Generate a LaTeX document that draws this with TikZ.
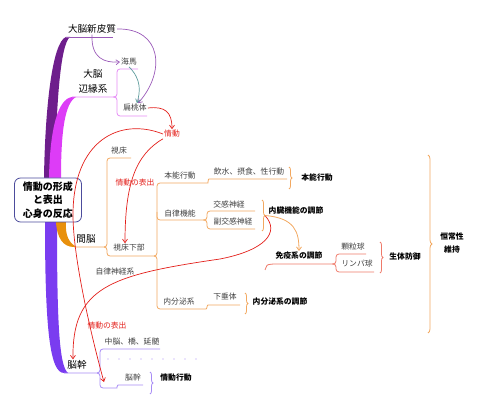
\documentclass[tikz,border=0pt]{standalone}
\usepackage{fontspec}
\setmainfont{Noto Sans CJK JP}
\usepackage{xcolor}
\usepackage{tikz}
\usetikzlibrary{arrows.meta, decorations.pathreplacing}
\definecolor{cortexpurple}{HTML}{6E1E8C}
\definecolor{cortexline}{HTML}{9A5AB8}
\definecolor{limbicpink}{HTML}{DD3CF7}
\definecolor{limbicline}{HTML}{E58AF5}
\definecolor{dienorange}{HTML}{E8900C}
\definecolor{dienline}{HTML}{F2A860}
\definecolor{stemviolet}{HTML}{7A3CF0}
\definecolor{stemline}{HTML}{A78BF5}
\definecolor{emored}{HTML}{E3201B}
\definecolor{hippoteal}{HTML}{5E9C9C}
\definecolor{immunecoral}{HTML}{EF7A6A}
\definecolor{corenavy}{HTML}{4C4C9C}

\begin{document}
\begin{tikzpicture}[x=1pt, y=-1pt, >={Straight Barb[length=3.5pt, width=5pt]},
    lbl/.style={font=\fontsize{7.8}{9}\selectfont, text=black!75, inner sep=1pt},
    key/.style={font=\fontsize{7.8}{9}\selectfont\bfseries, inner sep=1pt},
    big/.style={font=\fontsize{9.6}{15}\selectfont, inner sep=1pt, align=center},
    emo/.style={lbl, text=emored},
    brc/.style={decorate, decoration={brace, amplitude=3pt}},
    twig/.style={line width=0.8pt, rounded corners=3pt}]
    \useasboundingbox (0,0) rectangle (480,409);

    % Main trunks
    \fill[cortexpurple] (44,178) .. controls (45,110) and (52,42) .. (66,37) -- (70,37) .. controls (60,44) and (56,110) .. (55,178) -- cycle;
    \fill[limbicpink] (49,178) .. controls (50,128) and (58,99) .. (72,97) -- (76,97) .. controls (65,103) and (61,130) .. (61,178) -- cycle;
    \fill[stemviolet] (45,222) .. controls (45,330) and (50,373) .. (64,373) -- (68,373) .. controls (59,366) and (57,320) .. (57,222) -- cycle;
    \fill[dienorange] (56,222) .. controls (57,238) and (63,247) .. (74,247) -- (76,246.5) .. controls (69,243) and (65,235) .. (66,222) -- cycle;

    % Centre
    \node[draw=corenavy, line width=0.8pt, fill=white, rounded corners=6pt, minimum width=67pt, minimum height=44pt, align=center, font=\fontsize{10}{13.5}\selectfont\bfseries] (core) at (48,200) {情動の形成\\と表出\\心身の反応};

    % Labels
    \node[big] (shin) at (92,29) {大脳新皮質};
    \node[big] (hen) at (93,81) {大脳\\辺縁系};
    \node[big] (kan) at (86,239) {間脳};
    \node[big] (nokan) at (77,365) {脳幹};

    \node[lbl] (kaiba) at (129,62) {海馬};
    \node[lbl] (hento) at (135,108) {扁桃体};
    \node[emo] (jodo) at (172,134) {情動};
    \node[lbl] (shisho) at (119,151) {視床};
    \node[emo] (hyo1) at (135,183) {情動の表出};
    \node[lbl] (shikaku) at (129,248) {視床下部};
    \node[lbl] (honno) at (180,176) {本能行動};
    \node[lbl] (insui) at (249,172) {飲水、摂食、性行動};
    \node[key] (honnoR) at (317,178) {本能行動};
    \node[lbl] (jiritsu) at (180,214) {自律機能};
    \node[lbl] (kokan) at (229,205) {交感神経};
    \node[lbl] (fukukokan) at (233,222) {副交感神経};
    \node[key] (naizo) at (296,211) {内臓機能の調節};
    \node[key] (meneki) at (299,256) {免疫系の調節};
    \node[lbl] (karyu) at (353,247) {顆粒球};
    \node[lbl] (rinpa) at (357,264) {リンパ球};
    \node[key] (seitai) at (405,257) {生体防御};
    \node[key, align=center, font=\fontsize{7.8}{13}\selectfont\bfseries] (kojo) at (452,243) {恒常性\\維持};
    \node[lbl] (jiritsushin) at (115,272) {自律神経系};
    \node[lbl] (naibun) at (179,302) {内分泌系};
    \node[lbl] (kasui) at (225,297) {下垂体};
    \node[key] (naibunR) at (280,302) {内分泌系の調節};
    \node[emo] (hyo2) at (107,326) {情動の表出};
    \node[lbl] (chuno) at (132,342) {中脳、橋、延髄};
    \node[lbl] (nokansub) at (133,378) {脳幹};
    \node[key] (jododo) at (176,378) {情動行動};

    \coordinate (viscbr) at (265,215.5);
    \coordinate (stemtip) at (104,382);

    % Cortex and limbic branches
    \draw[twig, cortexline] (66,37) -- (113,37);
    \draw[twig, limbicline] (72,97) -- (117,97) -- (117,69) -- (138,69);
    \draw[twig, limbicline] (113,97) -- (117,97) -- (117,116) -- (147,116);

    % Diencephalon branches
    \draw[twig, dienline] (74,247) -- (107,247) -- (107,158) -- (131,158);
    \draw[twig, dienline] (104,247) -- (107,247) -- (107,256) -- (157,256) -- (157,183) -- (205,183) .. controls (208,183) and (208,179) .. (212,179) -- (287,179);
    \draw[twig, dienline] (154,256) -- (157,256) -- (157,309) -- (203,309) .. controls (207,309) and (207,305) .. (211,305) -- (240,305);
    \draw[twig, dienline] (157,212) -- (157,220) -- (207,220) -- (207,211) -- (255,211);
    \draw[twig, dienline] (203,220) -- (207,220) -- (207,229) -- (255,229);
    \draw[brc, dienline, line width=0.8pt] (289,167) -- (289,189);
    \draw[brc, dienline, line width=0.8pt] (262,200) -- (262,231);
    \draw[brc, dienline, line width=0.8pt] (245,293) -- (245,314);
    \draw[brc, dienline, line width=0.8pt, decoration={amplitude=4pt}] (428,155) -- (428,333);

    % Immune branch
    \draw[twig, immunecoral] (265,270) .. controls (267,265) .. (271,264) -- (336,264) -- (336,254) -- (366,254);
    \draw[twig, immunecoral] (332,264) -- (336,264) -- (336,272) -- (374,272);
    \draw[brc, immunecoral, line width=0.8pt] (380,242) -- (380,273);

    % Brainstem branches
    \draw[twig, stemline] (64,373) -- (100,373) -- (100,349) -- (160,349);
    \draw[twig, stemline] (97,373) -- (100,373) -- (100,388) -- (114,388) .. controls (117,388) and (117,385) .. (121,385) -- (143,385);
    \draw[stemline, line width=1.3pt, line cap=round, dash pattern=on 0pt off 11pt] (108,359) -- (198,359);
    \draw[brc, stemline, line width=0.8pt] (150,372) -- (150,394);

    % Arrows
    \draw[->, cortexline, line width=0.7pt] (shin.south) .. controls (91,58) and (104,63) .. (kaiba.west);
    \draw[->, cortexline, line width=0.7pt] (shin.east) .. controls (162,28) and (166,72) .. ([xshift=3pt]hento.north);
    \draw[->, hippoteal, line width=0.7pt] (kaiba.south) .. controls (142,80) and (140,92) .. ([xshift=2pt]hento.north);
    \draw[->, emored, line width=0.7pt] (hento.east) .. controls (165,106) and (172,112) .. (jodo.north);
    \draw[->, emored, line width=0.7pt] (jodo.west) .. controls (120,117) and (73,140) .. (73,215) .. controls (73,262) and (95,350) .. (stemtip);
    \draw[->, emored, line width=0.7pt] (jodo.south west) .. controls (135,155) and (125,185) .. ([xshift=-4pt]shikaku.north);
    \draw[->, emored, line width=0.7pt] (viscbr) .. controls (280,232) and (266,250) .. (220,259) .. controls (110,275) and (72,287) .. ([xshift=-4pt]nokan.north);
    \draw[->, dienline, line width=0.8pt] (viscbr) .. controls (295,218) and (299,232) .. (meneki.north);
\end{tikzpicture}
\end{document}
